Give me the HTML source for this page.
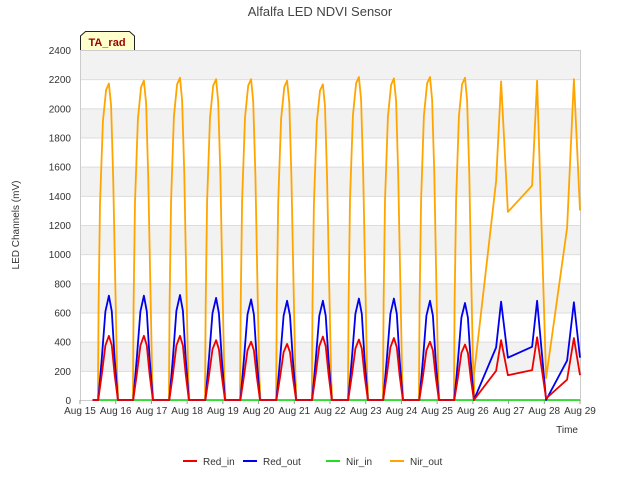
<!DOCTYPE html>
<html><head><meta charset="utf-8">
<style>
body{margin:0;background:#fff;font-family:"Liberation Sans",sans-serif;}
svg text{font-family:"Liberation Sans",sans-serif;}
</style></head>
<body>
<svg id="chart" width="640" height="480" xmlns="http://www.w3.org/2000/svg">
<text x="320" y="16" text-anchor="middle" font-size="13" fill="#444">Alfalfa LED NDVI Sensor</text>
<g id="bands"></g>
<g id="grid"></g>
<g id="yticks"></g>
<g id="xticks"></g>
<text transform="translate(19,225) rotate(-90)" text-anchor="middle" font-size="10" fill="#333">LED Channels (mV)</text>
<text x="578" y="433" text-anchor="end" font-size="10" fill="#333">Time</text>
<g id="series"></g>
<g>
<path d="M80.5,50 L80.5,36 L85.5,31.5 L129.5,31.5 L134.5,36 L134.5,50" fill="#ffffcc" stroke="#222" stroke-width="1"/>
<text x="107" y="46" text-anchor="middle" font-size="11" font-weight="bold" fill="#990000">TA_rad</text>
</g>
<g id="legend"></g>
</svg>
<script>
const yTicks=[0,200,400,600,800,1000,1200,1400,1600,1800,2000,2200,2400];
const xTickLabels=["Aug 15","Aug 16","Aug 17","Aug 18","Aug 19","Aug 20","Aug 21","Aug 22","Aug 23","Aug 24","Aug 25","Aug 26","Aug 27","Aug 28","Aug 29"];
const seriesNames=["Red_in","Red_out","Nir_in","Nir_out"];
// daily peak times (days since Aug 15) and peak values for days Aug15..Aug25
const peakT=[0.81,1.79,2.8,3.81,4.79,5.8,6.8,7.81,8.79,9.8,10.78];
const nirOutPeaks=[2170,2190,2210,2200,2200,2190,2165,2215,2205,2215,2210];
const redOutPeaks=[715,715,720,700,690,680,680,695,695,680,665];
const redInPeaks=[440,440,440,410,400,385,435,415,425,400,380];
// daily shape: offsets (days) & fractions of peak
const profOff=[-0.31,-0.29,-0.25,-0.17,-0.08,0,0.06,0.12,0.18,0.23,0.26];
const profO=[0,0.3,0.62,0.88,0.98,1,0.93,0.7,0.35,0.08,0];
const profROff=[-0.3,-0.2,-0.1,0,0.08,0.16,0.25];
const profR=[0,0.4,0.85,1,0.85,0.4,0];
// irregular tail Aug 26-29
const tailT=[11.03,11.65,11.79,11.98,12.66,12.8,13.05,13.64,13.83,14.0];
const tailO=[170,1500,2185,1290,1470,2190,150,1180,2200,1300];
const tailB=[0,360,675,290,365,680,0,270,670,290];
const tailR=[0,200,410,170,205,430,10,140,425,170];

const X0=80,X1=580,Y0=400,Y1=50;
const xs=d=>X0+d*(X1-X0)/14;
const ys=v=>Y0-v*(Y0-Y1)/2400;
const NS="http://www.w3.org/2000/svg";
function mk(tag,parent){const e=document.createElementNS(NS,tag);document.getElementById(parent).appendChild(e);return e;}

for(let i=0;i<yTicks.length-1;i++){
 const r=mk('rect','bands');
 
 
 r.setAttribute('x',X0);r.setAttribute('width',X1-X0);
 r.setAttribute('y',ys(yTicks[i+1]));r.setAttribute('height',ys(yTicks[i])-ys(yTicks[i+1]));
 r.setAttribute('fill',i%2==1?'#f2f2f2':'#ffffff');
}
yTicks.forEach(v=>{
 const l=mk('line','grid');
 
 
 l.setAttribute('x1',X0);l.setAttribute('x2',X1);l.setAttribute('y1',ys(v)+0.5);l.setAttribute('y2',ys(v)+0.5);
 l.setAttribute('stroke','#dcdcdc');
 const t=mk('text','yticks');
 
 
 t.setAttribute('x',71);t.setAttribute('y',ys(v)+4);t.setAttribute('text-anchor','end');
 t.setAttribute('font-size','10');t.setAttribute('fill','#333');t.textContent=v;
});
const fr=mk('rect','grid');


fr.setAttribute('x',X0+0.5);fr.setAttribute('y',Y1+0.5);fr.setAttribute('width',X1-X0);fr.setAttribute('height',Y0-Y1);
fr.setAttribute('fill','none');fr.setAttribute('stroke','#ccc');
xTickLabels.forEach((s,i)=>{
 const t=mk('text','xticks');
 
 
 t.setAttribute('x',xs(i));t.setAttribute('y',414);t.setAttribute('text-anchor','middle');
 t.setAttribute('font-size','10');t.setAttribute('fill','#333');t.textContent=s;
 const l=mk('line','xticks');
 
 
 l.setAttribute('x1',xs(i));l.setAttribute('x2',xs(i));l.setAttribute('y1',400);l.setAttribute('y2',404);l.setAttribute('stroke','#999');
});

function build(peaks,off,prof,tail){
 const pts=[[0.35,0]];
 peaks.forEach((p,i)=>{off.forEach((o,j)=>pts.push([peakT[i]+o,p*prof[j]]));});
 tailT.forEach((t,i)=>pts.push([t,tail[i]]));
 return pts;
}
function draw(pts,color,name){
 const p=mk('polyline','series');
 
 
 p.setAttribute('points',pts.map(q=>xs(q[0]).toFixed(1)+','+ys(q[1]).toFixed(1)).join(' '));
 p.setAttribute('fill','none');p.setAttribute('stroke',color);p.setAttribute('stroke-width','1.8');p.setAttribute('stroke-linejoin','round');
}
draw(build(nirOutPeaks,profOff,profO,tailO),'#ffa500','nir-out-line');
draw([[0.35,0],[14,0]],'#22dd22','nir-in-line');
draw(build(redOutPeaks,profROff,profR,tailB),'#0000ee','red-out-line');
draw(build(redInPeaks,profROff,profR,tailR),'#ee0000','red-in-line');

const legColors=['#ee0000','#0000ee','#22dd22','#ffa500'];
const legX=[183,243,326,390];
seriesNames.forEach((n,i)=>{
 const l=mk('line','legend');
 
 
 l.setAttribute('x1',legX[i]);l.setAttribute('x2',legX[i]+14);l.setAttribute('y1',461);l.setAttribute('y2',461);
 l.setAttribute('stroke',legColors[i]);l.setAttribute('stroke-width','2');
 const t=mk('text','legend');
 
 
 t.setAttribute('x',legX[i]+20);t.setAttribute('y',465);t.setAttribute('font-size','10');t.setAttribute('fill','#333');t.textContent=n;
});
</script>
</body></html>
